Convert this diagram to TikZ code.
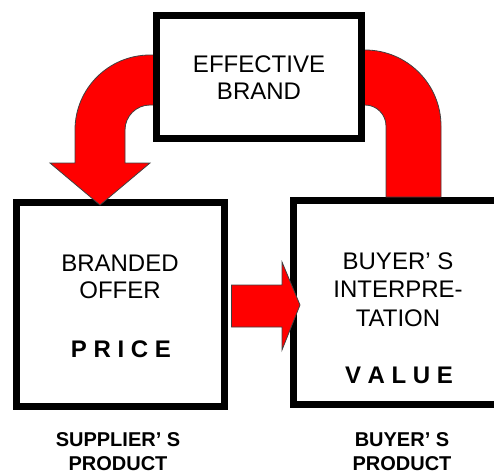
\documentclass[tikz,border=0pt]{standalone}
\usepackage{fontspec}
\setmainfont{Liberation Sans}
\usetikzlibrary{calc}
\begin{document}
\begin{tikzpicture}[x=1pt,y=-1pt,
  box/.style={draw=black,line width=7pt,fill=white,inner sep=0pt},
  redarrow/.style={fill=red,draw=black!75,line width=0.8pt,line join=miter},
  lbl/.style={anchor=base,inner sep=0pt,font=\fontsize{24}{28}\selectfont},
  boldlbl/.style={anchor=base,inner sep=0pt,font=\fontsize{24}{28}\selectfont\bfseries},
  caption/.style={anchor=base,inner sep=0pt,font=\fontsize{20}{25}\selectfont\bfseries}]
\useasboundingbox (0,0) rectangle (494,474);
\begin{scope}
\clip (0,0) rectangle (494,474);
% boxes at the bottom
\node[box,minimum width=209pt,minimum height=204pt] (value) at (398,302.5) {};
\node[box,minimum width=208pt,minimum height=204pt] (offer) at (120.5,304.5) {};
% curved arrow from the brand box down to the buyer's box
\draw[redarrow] (355,50) -- (365,50) .. controls (407,50) and (441,84) .. (441,126)
  -- (441,197) -- (386,197) -- (386,126)
  .. controls (386,114.4) and (376.6,105) .. (365,105) -- (355,105) -- cycle;
% curved arrow from the brand box down to the branded offer
\draw[redarrow] (160,55) -- (150,55) .. controls (108.6,55) and (75,88.6) .. (75,130)
  -- (75,163) -- (50,163) -- (100,205) -- (150,163) -- (125,163) -- (125,130)
  .. controls (125,116.2) and (136.2,105) .. (150,105) -- (160,105) -- cycle;
% top box
\node[box,minimum width=205pt,minimum height=123pt] (brand) at (259,77) {};
% straight arrow from offer to value
\draw[redarrow] (offer.east |- 0,285) ++(3.5,0) coordinate (hs)
  -- (282,285) -- (282,262) -- (300,305) -- (282,350) -- (282,327)
  -- (hs |- 0,327) -- cycle;
\end{scope}
% texts
\node[lbl] (t1) at (259,72) {EFFECTIVE};
\node[lbl] (t2) at (259,99) {BRAND};
\node[lbl] (t3) at (120,271) {BRANDED};
\node[lbl] (t4) at (120,298) {OFFER};
\node[boldlbl] (t5) at (121,357) {P R I C E};
\node[lbl] (t6) at (398,269) {BUYER’ S};
\node[lbl] (t7) at (398,297) {INTERPRE-};
\node[lbl] (t8) at (398,326) {TATION};
\node[boldlbl] (t9) at (399,383) {V A L U E};
\node[caption] (c1) at (118,446) {SUPPLIER’ S};
\node[caption] (c2) at (118,470) {PRODUCT};
\node[caption] (c3) at (402,446) {BUYER’ S};
\node[caption] (c4) at (402,470) {PRODUCT};
\end{tikzpicture}
\end{document}
